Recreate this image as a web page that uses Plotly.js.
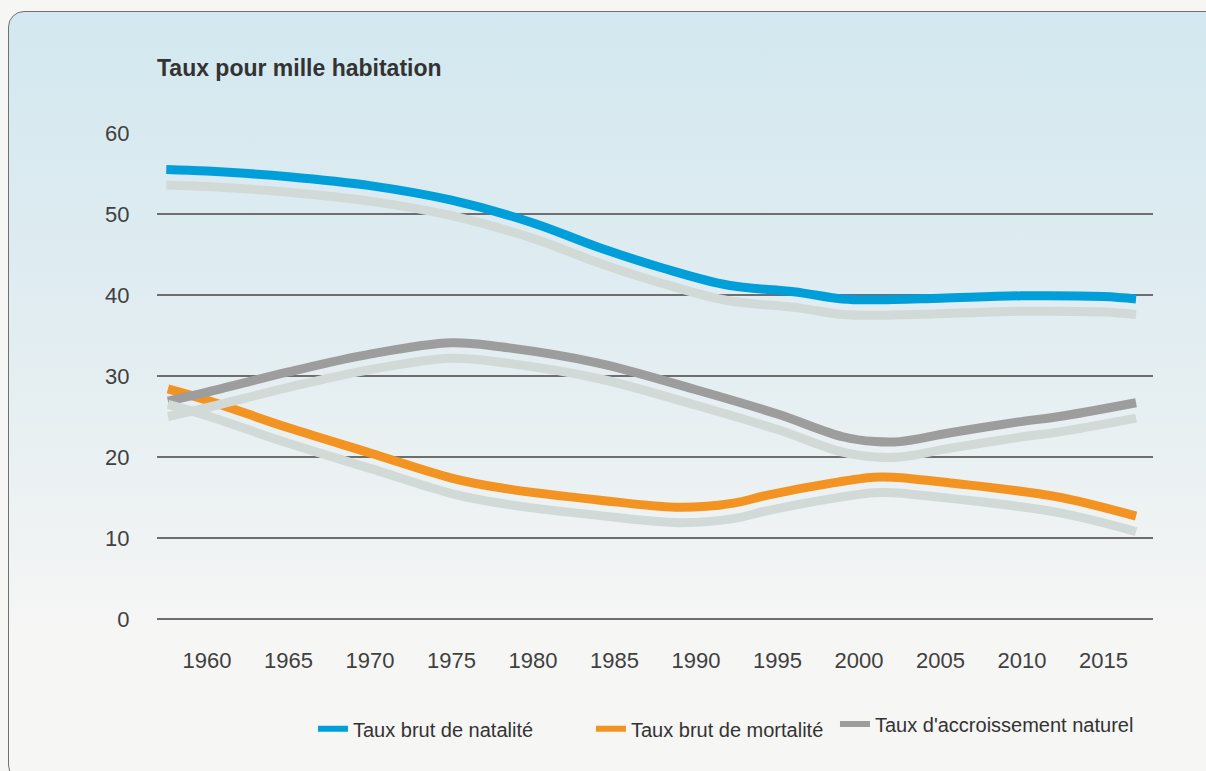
<!DOCTYPE html>
<html>
<head>
<meta charset="utf-8">
<script src="https://cdn.plot.ly/plotly-3.0.1.min.js"></script>
<style>
  html, body { margin: 0; padding: 0; width: 1206px; height: 771px; overflow: hidden; background: #f6f6f4; }
  #box {
    position: absolute; left: 8px; top: 11px; width: 1240px; height: 770px;
    border: 1.5px solid #707070; border-radius: 16px; box-sizing: border-box;
    background: linear-gradient(to bottom, #d3e8f0 0%, #d8eaf0 15%, #dfecf1 35%, #e8f0f2 55%, #f0f3f4 70%, #f6f6f5 81%, #f6f6f5 100%);
  }
  #chart { position: absolute; left: 0; top: 0; width: 1206px; height: 771px; }
</style>
</head>
<body>
<div id="box"></div>
<div id="chart"></div>
<script>
// Series names
const seriesNames = ["Taux brut de natalité", "Taux brut de mortalité", "Taux d'accroissement naturel"];

// Taux brut de natalité (pour mille)
const yearsNatalite = [1957.5, 1960, 1965, 1970, 1975, 1980, 1984, 1988, 1992, 1996, 1999, 2001, 2005, 2010, 2015, 2017];
const natalite      = [55.5,   55.3, 54.6, 53.5, 51.7, 48.9, 45.9, 43.3, 41.2, 40.4, 39.5, 39.4, 39.6, 39.9, 39.8, 39.5];

// Taux brut de mortalité (pour mille)
const yearsMortalite = [1957.6, 1960, 1965, 1970, 1975, 1978, 1984, 1989, 1992.3, 1994.4, 1998.4, 2000.9, 2002.1, 2005.6, 2012.1, 2017];
const mortalite      = [28.4,   27.0, 23.6, 20.5, 17.4, 16.2, 14.7, 13.8, 14.3,   15.3,   16.8,   17.5,   17.5,   16.8,   15.1,   12.7];

// Taux d'accroissement naturel (pour mille)
const yearsAccroissement = [1957.6, 1960, 1965, 1970, 1975, 1978, 1984, 1990, 1995, 1999, 2001, 2002.5, 2005.6, 2009.7, 2012.6, 2017];
const accroissement      = [26.9,   28.0, 30.5, 32.7, 34.1, 33.6, 31.6, 28.3, 25.3, 22.5, 21.9, 21.9,   23.0,   24.3,   25.1,   26.7];

// Axis ticks
const xTickVals = [1960, 1965, 1970, 1975, 1980, 1985, 1990, 1995, 2000, 2005, 2010, 2015];
const yTickVals = [0, 10, 20, 30, 40, 50, 60];

const colors = ["#009fda", "#f39322", "#9d9d9d"];
const shadowColor = "#d2dad7";
const FONT = "'Liberation Sans', Arial, sans-serif";

const xs = [yearsNatalite, yearsMortalite, yearsAccroissement];
const ys = [natalite, mortalite, accroissement];
const legendIds = ["legend", "legend2", "legend3"];

const traces = [];
// shadows first (drawn on an offset axis)
for (let i = 0; i < 3; i++) {
  traces.push({
    x: xs[i], y: ys[i], type: "scatter", mode: "lines", yaxis: "y2",
    line: { color: shadowColor, width: 9, shape: "spline", smoothing: 1 },
    showlegend: false, hoverinfo: "skip"
  });
}
for (let i = 0; i < 3; i++) {
  traces.push({
    x: xs[i], y: ys[i], type: "scatter", mode: "lines", name: seriesNames[i],
    showlegend: false,
    line: { color: colors[i], width: 9, shape: "spline", smoothing: 1 }
  });
}
// legend entries (thinner key lines, as in the original)
for (let i = 0; i < 3; i++) {
  traces.push({
    x: [null], y: [null], type: "scatter", mode: "lines", name: seriesNames[i],
    legend: legendIds[i], hoverinfo: "skip",
    line: { color: colors[i], width: 6 }
  });
}

function legendBox(x, y) {
  return {
    orientation: "h", x: x, xanchor: "left", y: y, yanchor: "middle",
    bgcolor: "rgba(0,0,0,0)", font: { family: FONT, size: 20, color: "#333333" }
  };
}

const layout = {
  width: 1206, height: 771,
  paper_bgcolor: "rgba(0,0,0,0)", plot_bgcolor: "rgba(0,0,0,0)",
  margin: { l: 157, r: 53, t: 133, b: 152 },
  font: { family: FONT, color: "#3a3a3a" },
  title: {
    text: "<b>Taux pour mille habitation</b>",
    x: 157 / 1206, xanchor: "left", xref: "container",
    y: 1 - 68 / 771, yanchor: "middle", yref: "container",
    font: { family: FONT, size: 23, color: "#333333" }
  },
  xaxis: {
    range: [1956.93, 2018.04], tickvals: xTickVals, ticktext: xTickVals.map(String),
    showgrid: false, zeroline: false, showline: false,
    ticks: "outside", ticklen: 22, tickcolor: "rgba(0,0,0,0)",
    tickfont: { family: FONT, size: 22, color: "#404040" }
  },
  yaxis: {
    range: [0, 60], tickvals: yTickVals,
    showgrid: true, gridcolor: "#6e6e6e", gridwidth: 1.3,
    zeroline: true, zerolinecolor: "#6e6e6e", zerolinewidth: 1.3, showline: false,
    ticks: "outside", ticklen: 22, tickcolor: "rgba(0,0,0,0)",
    tickfont: { family: FONT, size: 22, color: "#404040" }
  },
  yaxis2: { range: [1.91, 61.91], overlaying: "y", visible: false },
  showlegend: true,
  legend: legendBox(0.1566, -0.226),
  legend2: legendBox(0.4357, -0.226),
  legend3: legendBox(0.6807, -0.216)
};

Plotly.newPlot("chart", traces, layout, { displayModeBar: false, staticPlot: true });
</script>
</body>
</html>
